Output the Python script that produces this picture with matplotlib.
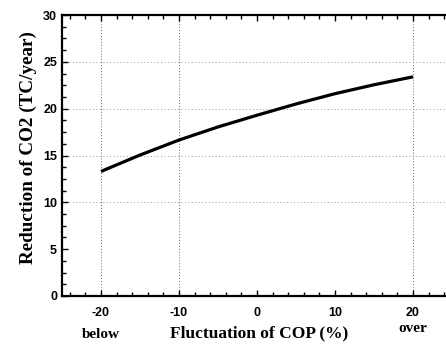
import matplotlib
matplotlib.use("Agg")
import matplotlib.pyplot as plt
from matplotlib.ticker import MultipleLocator
from matplotlib.transforms import blended_transform_factory

plt.rcParams["axes.unicode_minus"] = False

cop_fluct = [-20, -15, -10, -5, 0, 5, 10, 15, 20]
co2_reduction = [13.3, 15.05, 16.65, 18.05, 19.3, 20.5, 21.6, 22.55, 23.4]
xticks = [-20, -10, 0, 10, 20]
yticks = [0, 5, 10, 15, 20, 25, 30]
vgrid = [-20, -10, 20]
hgrid = [10, 15, 20, 25]

fig = plt.figure(figsize=(4.46, 3.47), dpi=100)
ax = fig.add_axes([62/446, 51/347, 390/446, 281/347])

for g in hgrid:
    ax.axhline(g, color="#999999", lw=0.7, ls=(0, (1, 2.5)), zorder=0)
for g in vgrid:
    ax.axvline(g, color="#666666", lw=0.7, ls=(0, (1, 2)), zorder=0)

ax.plot(cop_fluct, co2_reduction, color="black", lw=2.3, solid_capstyle="butt")

ax.set_xlim(-25, 25)
ax.set_ylim(0, 30)
ax.set_xticks(xticks)
ax.set_yticks(yticks)
ax.xaxis.set_minor_locator(MultipleLocator(2))
ax.yaxis.set_minor_locator(MultipleLocator(1.25))
ax.tick_params(which="both", direction="in", top=True, right=False,
               labelsize=9, width=1)
ax.tick_params(which="major", length=4)
ax.tick_params(which="minor", length=3)
ax.tick_params(axis="x", pad=8)
for lab in ax.get_xticklabels() + ax.get_yticklabels():
    lab.set_fontfamily("Liberation Sans")
    lab.set_fontweight("bold")

for s in ["left", "bottom", "top"]:
    ax.spines[s].set_linewidth(1.6)
ax.spines["right"].set_visible(False)

ax.set_xlabel("Fluctuation of COP (%)", fontfamily="Liberation Serif",
              fontweight="bold", fontsize=12.5)
ax.xaxis.set_label_coords(0.505, -0.132)
ax.xaxis.label.set_va("center")
ax.set_ylabel("Reduction of CO2 (TC/year)", fontfamily="Liberation Serif",
              fontweight="bold", fontsize=13.8)
ax.yaxis.set_label_coords(-0.087, 0.527)
ax.yaxis.label.set_va("center")

tr = blended_transform_factory(ax.transData, fig.transFigure)
ax.text(-20, 1 - 334/347, "below", transform=tr, ha="center", va="center",
        fontfamily="Liberation Serif", fontweight="bold", fontsize=11)
ax.text(20, 1 - 329/347, "over", transform=tr, ha="center", va="center",
        fontfamily="Liberation Serif", fontweight="bold", fontsize=11)

fig.savefig("out.png", dpi=100)
